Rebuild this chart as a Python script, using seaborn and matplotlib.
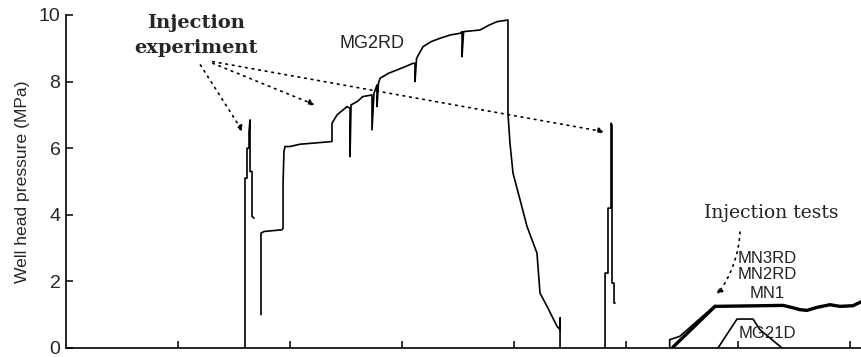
import numpy as np
import pandas as pd
import matplotlib
matplotlib.use("Agg")
import matplotlib.pyplot as plt
import seaborn as sns

# ---- data (x in tick-interval units, y in MPa) ----
mg2rd_a_x = [1.598, 1.598, 1.661, 1.661, 1.705, 1.705, 1.705, 1.75, 1.75, 1.795, 1.795]
mg2rd_a_y = [0.0, 5.1, 5.1, 6.0, 6.0, 6.5, 6.85, 6.85, 5.3, 5.3, 3.95]
# x-scale for spike a uses pixel offsets measured near the first injection
mg2rd_a_x = [1.598, 1.598, 1.616, 1.616, 1.634, 1.634, 1.643, 1.643, 1.661, 1.661, 1.679]
mg2rd_a_y = [0.0, 5.1, 5.1, 6.0, 6.0, 6.5, 6.85, 5.3, 5.3, 3.95, 3.9]

mg2rd_b_x = [1.741, 1.741, 1.77, 1.929, 1.938, 1.938, 1.946, 1.955, 2.0, 2.09, 2.2, 2.375, 2.375,
             2.42, 2.509, 2.536, 2.536, 2.545, 2.6, 2.65, 2.732, 2.732, 2.75, 2.777, 2.777,
             2.79, 2.804, 2.88, 2.955, 3.03, 3.098, 3.116, 3.116, 3.13, 3.188, 3.26, 3.339,
             3.43, 3.518, 3.536, 3.536, 3.55, 3.696, 3.78, 3.848, 3.946, 3.946, 3.964, 3.991,
             4.054, 4.116, 4.205, 4.232, 4.295, 4.384, 4.411, 4.411, 4.411]
mg2rd_b_y = [1.0, 3.45, 3.5, 3.55, 3.6, 4.95, 5.9, 6.05, 6.05, 6.12, 6.15, 6.2, 6.75,
             7.0, 7.25, 7.2, 5.75, 7.3, 7.4, 7.55, 7.6, 6.55, 7.65, 7.9, 7.25,
             7.95, 8.1, 8.25, 8.35, 8.45, 8.55, 8.55, 8.0, 8.7, 9.05, 9.2, 9.3,
             9.4, 9.45, 9.5, 8.75, 9.5, 9.55, 9.7, 9.8, 9.85, 7.05, 6.15, 5.25,
             4.45, 3.65, 2.85, 1.65, 1.25, 0.65, 0.55, 0.9, 0.0]

mg2rd_c_x = [4.813, 4.813, 4.839, 4.839, 4.866, 4.866, 4.875, 4.875, 4.893, 4.893, 4.902]
mg2rd_c_y = [0.0, 2.25, 2.25, 4.2, 4.2, 6.75, 6.7, 1.95, 1.95, 1.35, 1.35]

mn1_x = [5.42, 5.795, 6.0, 6.223, 6.402, 6.5, 6.554, 6.616, 6.705, 6.821, 6.911, 7.027, 7.107]
mn1_y = [0.03, 1.25, 1.26, 1.27, 1.28, 1.2, 1.15, 1.13, 1.22, 1.3, 1.25, 1.27, 1.4]

mn2_x = [5.39, 5.39, 5.48, 5.795]
mn2_y = [0.0, 0.25, 0.35, 1.28]

mg21d_x = [5.821, 5.991, 6.134, 6.196, 6.393]
mg21d_y = [0.0, 0.87, 0.87, 0.55, 0.0]

y_ticks = [0, 2, 4, 6, 8, 10]
x_ticks = [1, 2, 3, 4, 5, 6, 7]

def seg(xs, ys, name):
    return pd.DataFrame({"x": xs, "y": ys, "seg": name})

thin = pd.concat([seg(mg2rd_a_x, mg2rd_a_y, "a"),
                  seg(mg2rd_b_x, mg2rd_b_y, "b"),
                  seg(mg2rd_c_x, mg2rd_c_y, "c"),
                  seg(mn2_x, mn2_y, "mn2"),
                  seg(mg21d_x, mg21d_y, "mg21d")], ignore_index=True)
thick = seg(mn1_x, mn1_y, "mn1")

sns.set_theme(style="white")
plt.rcParams["font.family"] = ["Liberation Sans", "DejaVu Sans"]

fig = plt.figure(figsize=(8.62, 3.57), dpi=100)
ax = fig.add_axes([66/862, 9/357, 1 - 66/862, (348 - 15)/357])

sns.lineplot(data=thin, x="x", y="y", units="seg", estimator=None, sort=False,
             color="black", lw=1.2, ax=ax)
sns.lineplot(data=thick, x="x", y="y", units="seg", estimator=None, sort=False,
             color="black", lw=2.4, ax=ax)

ax.set_xlim(0, 7.107)
ax.set_ylim(0, 10)
ax.set_xticks(x_ticks)
ax.set_xticklabels([])
ax.set_yticks(y_ticks)
ax.set_yticklabels([str(t) for t in y_ticks], fontsize=14)
ax.tick_params(direction="in", length=5, width=1.1, color="black", left=True, bottom=True,
               pad=4)
ax.set_xlabel("")
ax.set_ylabel("Well head pressure (MPa)", fontsize=12.6, labelpad=6)
for s in ["top", "right"]:
    ax.spines[s].set_visible(False)
for s in ["left", "bottom"]:
    ax.spines[s].set_color("black")
    ax.spines[s].set_linewidth(1.2)

# texts
ax.text(1.16, 9.76, "Injection", family="DejaVu Serif", fontweight="bold", fontsize=14,
        ha="center", va="center")
ax.text(1.16, 9.0, "experiment", family="DejaVu Serif", fontweight="bold", fontsize=14,
        ha="center", va="center")
ax.text(2.73, 9.15, "MG2RD", fontsize=13, ha="center", va="center", color="#222222")
ax.text(6.295, 4.05, "Injection tests", family="DejaVu Serif", fontsize=13.5,
        ha="center", va="center", color="#222222")
for lab, yy in [("MN3RD", 2.7), ("MN2RD", 2.2), ("MN1", 1.65), ("MG21D", 0.45)]:
    ax.text(6.26, yy, lab, fontsize=12, ha="center", va="center", color="#222222")

arrow = dict(arrowstyle="-|>", linestyle=(0, (1, 3)), color="black", lw=1.2,
             mutation_scale=9, shrinkA=0, shrinkB=0)
ax.annotate("", xy=(1.58, 6.49), xytext=(1.2, 8.5), arrowprops=arrow)
ax.annotate("", xy=(2.223, 7.3), xytext=(1.31, 8.55), arrowprops=arrow)
ax.annotate("", xy=(4.81, 6.49), xytext=(1.31, 8.6), arrowprops=arrow)
ax.annotate("", xy=(5.81, 1.59), xytext=(6.018, 3.48),
            arrowprops=dict(arrow, connectionstyle="arc3,rad=-0.15"))

fig.savefig("out.png", dpi=100)
